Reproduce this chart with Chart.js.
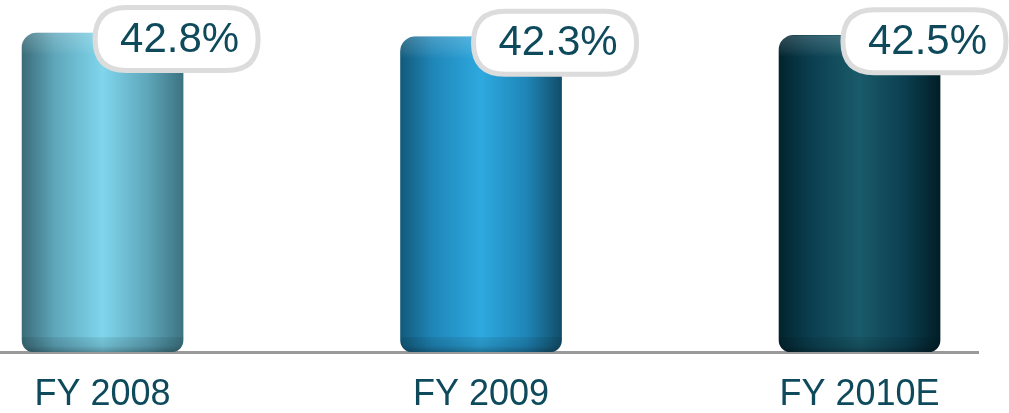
<!DOCTYPE html>
<html>
<head>
<meta charset="utf-8">
<script src="https://cdn.jsdelivr.net/npm/chart.js@4"></script>
<style>
  html, body { margin: 0; padding: 0; background: #fff; }
  #wrap { width: 1009px; height: 413px; }
</style>
</head>
<body>
<div id="wrap"><canvas id="chart" width="1009" height="413"></canvas></div>
<script>
const categories = ['FY 2008', 'FY 2009', 'FY 2010E'];
const margins = [42.8, 42.3, 42.5];
// cylinder shading per bar: [edge, mid, centre highlight, far edge]
const barShades = [
  ['#3a6c78', '#5ea6ba', '#80d6ec', '#3c7381'],
  ['#125a7b', '#1f86b8', '#2ea9df', '#114e69'],
  ['#02242e', '#0b3f50', '#1a5a6a', '#011e27']
];

const TEXT_COLOR = '#0e4a5c';
const FONT = '"Liberation Sans", Arial, sans-serif';
const BAR_W = 161;

function cylinderFill(c) {
  const chart = c.chart;
  const sx = chart.scales && chart.scales.x;
  const shades = barShades[c.dataIndex] || barShades[0];
  if (!chart.chartArea || !sx) return shades[1];
  const cx = sx.getPixelForValue(c.dataIndex);
  const g = chart.ctx.createLinearGradient(cx - BAR_W / 2, 0, cx + BAR_W / 2, 0);
  g.addColorStop(0, shades[0]);
  g.addColorStop(0.2, shades[1]);
  g.addColorStop(0.5, shades[2]);
  g.addColorStop(0.78, shades[1]);
  g.addColorStop(1, shades[3]);
  return g;
}

function roundRectPath(ctx, x, y, w, h, rt, rb) {
  ctx.beginPath();
  ctx.moveTo(x + rt, y);
  ctx.lineTo(x + w - rt, y);
  ctx.quadraticCurveTo(x + w, y, x + w, y + rt);
  ctx.lineTo(x + w, y + h - rb);
  ctx.quadraticCurveTo(x + w, y + h, x + w - rb, y + h);
  ctx.lineTo(x + rb, y + h);
  ctx.quadraticCurveTo(x, y + h, x, y + h - rb);
  ctx.lineTo(x, y + rt);
  ctx.quadraticCurveTo(x, y, x + rt, y);
  ctx.closePath();
}

// top highlight and bottom shadow band on each cylinder
const cylinderShade = {
  id: 'cylinderShade',
  afterDatasetsDraw(chart) {
    const ctx = chart.ctx;
    chart.getDatasetMeta(0).data.forEach((bar) => {
      const left = bar.x - bar.width / 2;
      const h = bar.base - bar.y;
      ctx.save();
      roundRectPath(ctx, left, bar.y, bar.width, h, 15, 12);
      ctx.clip();
      const top = ctx.createLinearGradient(0, bar.y, 0, bar.y + 22);
      top.addColorStop(0, 'rgba(255,255,255,0.18)');
      top.addColorStop(0.7, 'rgba(255,255,255,0.07)');
      top.addColorStop(1, 'rgba(255,255,255,0)');
      ctx.fillStyle = top;
      ctx.fillRect(left, bar.y, bar.width, 22);
      const bot = ctx.createLinearGradient(0, bar.base - 15, 0, bar.base);
      bot.addColorStop(0, 'rgba(0,0,0,0.08)');
      bot.addColorStop(0.6, 'rgba(0,0,0,0.14)');
      bot.addColorStop(1, 'rgba(0,0,0,0.32)');
      ctx.fillStyle = bot;
      ctx.fillRect(left, bar.base - 15, bar.width, 15);
      ctx.restore();
    });
  }
};

// pill-shaped value callouts
const valueBubbles = {
  id: 'valueBubbles',
  afterDraw(chart) {
    const ctx = chart.ctx;
    const vals = chart.data.datasets[0].data;
    ctx.save();
    ctx.font = '42px ' + FONT;
    chart.getDatasetMeta(0).data.forEach((bar, i) => {
      const txt = vals[i].y.toFixed(1) + '%';
      const tw = ctx.measureText(txt).width;
      const w = tw + 44;
      const h = 63;
      let cx = bar.x + 74;
      if (cx + w / 2 > chart.width - 3) cx = chart.width - 3 - w / 2;
      const cy = bar.y + 6;
      roundRectPath(ctx, cx - w / 2, cy - h / 2, w, h, h / 2, h / 2);
      ctx.fillStyle = '#fff';
      ctx.fill();
      ctx.lineWidth = 5;
      ctx.strokeStyle = '#dcdcdc';
      ctx.stroke();
      ctx.fillStyle = TEXT_COLOR;
      ctx.textAlign = 'center';
      ctx.textBaseline = 'middle';
      ctx.fillText(txt, cx + 3, cy + 1);
    });
    ctx.restore();
  }
};

new Chart(document.getElementById('chart'), {
  type: 'bar',
  data: {
    datasets: [{
      data: margins.map((v, i) => ({ x: i, y: v })),
      backgroundColor: cylinderFill,
      barThickness: BAR_W,
      borderRadius: { topLeft: 15, topRight: 15, bottomLeft: 12, bottomRight: 12 },
      borderSkipped: false
    }]
  },
  options: {
    responsive: false,
    animation: false,
    layout: { padding: { left: 0, right: 31, top: 0, bottom: 0 } },
    plugins: { legend: { display: false }, tooltip: { enabled: false } },
    scales: {
      x: {
        type: 'linear',
        offset: false,
        min: -0.271,
        max: 2.313,
        afterBuildTicks: (scale) => { scale.ticks = categories.map((c, i) => ({ value: i })); },
        afterFit: (scale) => { scale.height = 61; },
        ticks: {
          autoSkip: false,
          maxRotation: 0,
          padding: 21,
          color: TEXT_COLOR,
          font: { family: FONT, size: 36 },
          callback: (v) => categories[v]
        },
        grid: { display: false, drawTicks: false },
        border: { display: true, color: '#999999', width: 3 }
      },
      y: {
        display: false,
        min: 0,
        max: 47.23
      }
    }
  },
  plugins: [cylinderShade, valueBubbles]
});
</script>
</body>
</html>
